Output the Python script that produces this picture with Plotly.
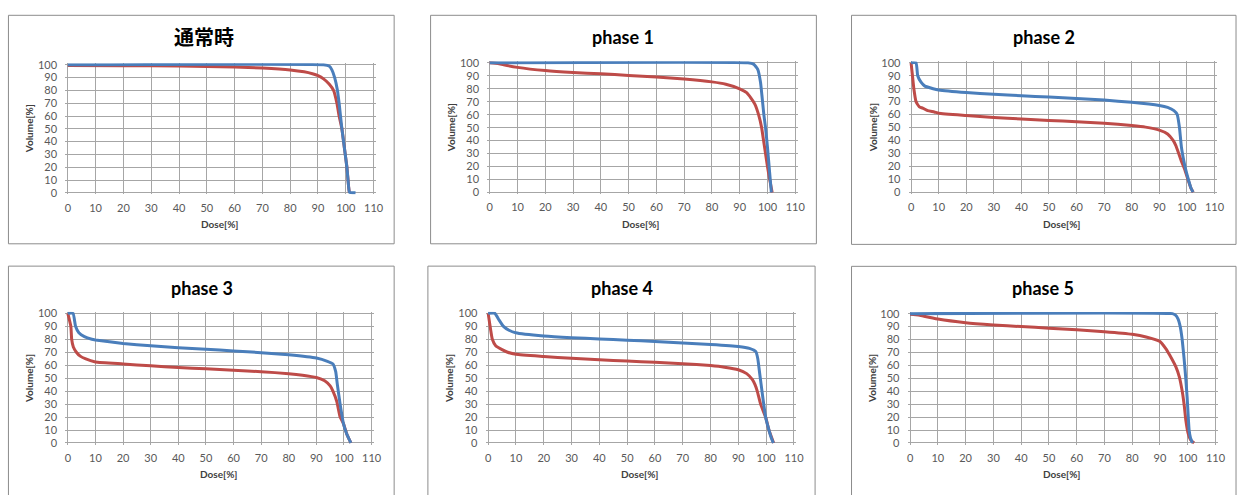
import plotly.graph_objects as go

W, H = 1248, 495

titles = ["通常時", "phase 1", "phase 2", "phase 3", "phase 4", "phase 5"]
x_ticks = [0, 10, 20, 30, 40, 50, 60, 70, 80, 90, 100, 110]
y_ticks = [0, 10, 20, 30, 40, 50, 60, 70, 80, 90, 100]

# --- 通常時 ---
dose_b0 = [0, 92, 94, 95, 96, 97, 97.6, 98.6, 99.5, 100.4, 101, 101.3, 103.5]
vol_b0 = [100, 100, 99, 96, 90, 80, 70, 50, 35, 20, 5, 0.5, 0]
dose_r0 = [0, 20, 40, 60, 70, 80, 85, 88, 90, 92, 94, 95.6, 96.8, 97.6, 98.6, 99.5, 100.4, 101, 101.3]
vol_r0 = [99.5, 99.3, 99, 98.3, 97.5, 96, 94.5, 93, 91.5, 89, 85, 80, 70, 60, 50, 35, 20, 5, 0]

# --- phase 1 ---
dose_b1 = [0, 93, 95, 96.5, 97.5, 98, 98.7, 99.3, 100, 100.8, 101.4]
vol_b1 = [100, 100, 99, 95, 85, 75, 60, 50, 35, 15, 0]
dose_r1 = [0, 3, 5, 10, 20, 30, 40, 50, 60, 70, 80, 85, 90, 92.5, 94, 95.5, 96.8, 97.9, 98.6, 99.3, 100, 100.8, 101.7]
vol_r1 = [100, 99.5, 98.5, 96.5, 94, 92.5, 91.5, 90.3, 89, 87.5, 85.3, 83.5, 80, 77, 73, 68, 60, 50, 40, 30, 20, 10, 0]

# --- phase 2 ---
dose_b2 = [0, 1.8, 2.4, 3.6, 5, 8, 10, 20, 30, 40, 50, 60, 70, 80, 90, 93, 95.3, 96.5, 97.3, 98, 98.8, 99.5, 100.5, 101.5, 102.2]
vol_b2 = [100, 100, 90, 85, 82, 80, 79, 77, 75.7, 74.5, 73.5, 72.5, 71.2, 69.5, 67, 65.5, 63, 60, 50, 35, 25, 18, 10, 3, 0]
dose_r2 = [0, 0.5, 1, 1.8, 3, 4.2, 6, 8.4, 10, 20, 30, 40, 50, 60, 70, 80, 85, 90, 93, 95, 96, 97, 98, 99.3, 100.5, 101.5, 102.3]
vol_r2 = [100, 90, 80, 70, 66, 65, 63, 62, 61, 59.3, 57.8, 56.6, 55.5, 54.5, 53.3, 51.5, 50.3, 48, 45, 40, 36, 30, 24, 17, 9, 3, 0]

# --- phase 3 ---
dose_b3 = [0, 1.9, 2.8, 4, 6, 8.7, 10, 20, 30, 40, 50, 60, 70, 80, 90, 94, 96, 97, 97.6, 98.6, 99.8, 101, 102.5]
vol_b3 = [100, 100, 90, 85, 82, 80, 79.5, 76.8, 75, 73.5, 72.3, 71, 69.7, 68, 65.5, 63, 61, 55, 45, 30, 15, 7, 0]
dose_r3 = [0, 1.1, 1.4, 2, 3.1, 4.5, 6.3, 10, 20, 30, 40, 50, 60, 70, 80, 85, 90, 93, 95, 96, 97.4, 98.6, 99.8, 101, 102.5]
vol_r3 = [100, 90, 80, 74, 70, 67, 65, 62.5, 61, 59.5, 58.3, 57.2, 56.2, 55, 53.5, 52.3, 50.5, 48, 44, 40, 32, 20, 15, 7, 0]

# --- phase 4 ---
dose_b4 = [0, 2.4, 3.9, 5.5, 7.5, 9.9, 20, 30, 40, 50, 60, 70, 80, 90, 94, 96.3, 97, 97.6, 98.2, 99, 99.8, 101, 102, 102.6]
vol_b4 = [100, 100, 95, 90, 87, 85, 82.5, 81.2, 80.3, 79.3, 78.3, 77.2, 76, 74.5, 73, 70.5, 65, 55, 45, 32, 20, 10, 3, 0]
dose_r4 = [0, 0.7, 1.5, 2.7, 5, 7, 10, 20, 30, 40, 50, 60, 70, 80, 85, 90, 93, 95, 96, 96.8, 98, 99.8, 101, 102, 102.7]
vol_r4 = [100, 90, 80, 75, 72, 70, 68.5, 66.8, 65.3, 64.2, 63.2, 62.2, 61.2, 59.7, 58.5, 56.5, 53.5, 49, 45, 40, 30, 20, 10, 4, 0]

# --- phase 5 ---
dose_b5 = [0, 94.5, 95.5, 96.5, 97.3, 98, 98.7, 99.3, 99.8, 100.2, 100.5, 101, 101.7]
vol_b5 = [100, 100, 99, 96, 90, 80, 65, 50, 35, 20, 10, 4, 0]
dose_r5 = [0, 3, 5, 10, 20, 30, 40, 50, 60, 70, 80, 85, 90, 92.1, 93.5, 95.7, 97, 98.1, 98.8, 99.3, 100.2, 101, 102.3]
vol_r5 = [99.5, 99, 98, 95.8, 93, 91.3, 90, 88.8, 87.5, 86, 84, 82, 78.5, 73, 68, 59, 51, 39, 28, 18, 7, 2.5, 0]

blue_series = [(dose_b0, vol_b0), (dose_b1, vol_b1), (dose_b2, vol_b2),
               (dose_b3, vol_b3), (dose_b4, vol_b4), (dose_b5, vol_b5)]
red_series = [(dose_r0, vol_r0), (dose_r1, vol_r1), (dose_r2, vol_r2),
              (dose_r3, vol_r3), (dose_r4, vol_r4), (dose_r5, vol_r5)]

# pixel layout for each panel: (x of dose 0, x of dose 110, y of vol 100, y of vol 0)
plot_px = [
    (67.3, 375.3, 60.0, 190.7),
    (492.3, 800.0, 58.0, 190.3),
    (916.7, 1222.3, 58.0, 190.0),
    (67.3, 373.3, 313.7, 446.0),
    (490.7, 798.7, 313.7, 446.0),
    (915.7, 1223.3, 314.0, 446.0),
]
box_px = [
    (7.5, 396.0, 9.5, 242.7),
    (432.7, 821.3, 9.5, 242.7),
    (856.7, 1244.0, 9.5, 243.3),
    (7.5, 396.0, 265.5, 505.0),
    (430.0, 820.0, 265.5, 505.0),
    (856.7, 1244.0, 265.7, 505.0),
]
title_px = [(204, 32), (627, 32), (1051, 32), (202, 288), (626, 288), (1050, 288)]
title_size = [20, 18, 18, 18, 18, 18]
dose_lbl_px = [(221, 223), (645, 223), (1069, 223), (220, 478), (644, 478), (1069, 478)]
vol_lbl_px = [(29, 125), (454, 124), (879, 124), (29, 380), (452, 380), (878, 380)]

XPAD, YPAD = 0.9, 1.2
BLUE = "#4A7EBB"
RED = "#BE4B48"
GRID = "#A6A6A6"
FONT = "Lato, 'Noto Sans CJK JP', sans-serif"

fig = go.Figure()
shapes = []
annotations = []

for i in range(6):
    ax = "" if i == 0 else str(i + 1)
    x0p, x110p, y100p, y0p = plot_px[i]
    ux = (x110p - x0p) / 110.0
    uy = (y0p - y100p) / 100.0
    left = x0p - XPAD * ux
    right = x110p + XPAD * ux
    top = y100p - YPAD * uy
    bottom = y0p + YPAD * uy
    xdom = [left / W, right / W]
    ydom = [1 - bottom / H, 1 - top / H]

    for (dx, vy), col in ((red_series[i], RED), (blue_series[i], BLUE)):
        fig.add_trace(go.Scatter(
            x=dx, y=vy, mode="lines", xaxis="x" + ax, yaxis="y" + ax,
            line=dict(color=col, width=3, shape="spline", smoothing=0.4),
            showlegend=False, hoverinfo="skip"))

    fig.layout["xaxis" + ax] = dict(
        domain=xdom, anchor="y" + ax, range=[-XPAD, 110 + XPAD],
        tickvals=x_ticks, ticktext=[str(v) for v in x_ticks],
        showgrid=True, gridcolor=GRID, gridwidth=1, zeroline=False, showline=False,
        ticks="outside", ticklen=3, tickcolor="rgba(0,0,0,0)",
        tickfont=dict(family=FONT, size=11, color="#595959"),
        fixedrange=True)
    fig.layout["yaxis" + ax] = dict(
        domain=ydom, anchor="x" + ax, range=[-YPAD, 100 + YPAD],
        tickvals=y_ticks, ticktext=[str(v) for v in y_ticks],
        showgrid=True, gridcolor=GRID, gridwidth=1, zeroline=False, showline=False,
        ticks="outside", ticklen=5, tickcolor="rgba(0,0,0,0)",
        tickfont=dict(family=FONT, size=11, color="#595959"),
        fixedrange=True)

    bx0, bx1, by0, by1 = box_px[i]
    shapes.append(dict(type="rect", xref="paper", yref="paper",
                       x0=bx0 / W, x1=bx1 / W, y0=1 - by1 / H, y1=1 - by0 / H,
                       line=dict(color="#8C8C8C", width=1), fillcolor="rgba(0,0,0,0)",
                       layer="below"))

    tx, ty = title_px[i]
    annotations.append(dict(text="<b>" + titles[i] + "</b>", xref="paper", yref="paper",
                            x=tx / W, y=1 - ty / H, xanchor="center", yanchor="middle",
                            showarrow=False,
                            font=dict(family=FONT, size=title_size[i], color="#000000")))
    dx_, dy_ = dose_lbl_px[i]
    annotations.append(dict(text="<b>Dose[%]</b>", xref="paper", yref="paper",
                            x=dx_ / W, y=1 - dy_ / H, xanchor="center", yanchor="middle",
                            showarrow=False, font=dict(family=FONT, size=10, color="#404040")))
    vx, vy_ = vol_lbl_px[i]
    annotations.append(dict(text="<b>Volume[%]</b>", xref="paper", yref="paper",
                            x=vx / W, y=1 - vy_ / H, xanchor="center", yanchor="middle",
                            textangle=-90, showarrow=False,
                            font=dict(family=FONT, size=10, color="#404040")))

fig.update_layout(
    width=W, height=H, autosize=False,
    margin=dict(l=0, r=0, t=0, b=0),
    paper_bgcolor="white", plot_bgcolor="white",
    shapes=shapes, annotations=annotations,
    showlegend=False,
)

fig.write_html("out.html", config={"displayModeBar": False},
               post_script="document.body.style.margin='0';document.body.style.padding='0';"
                           "document.body.style.overflow='hidden';")
